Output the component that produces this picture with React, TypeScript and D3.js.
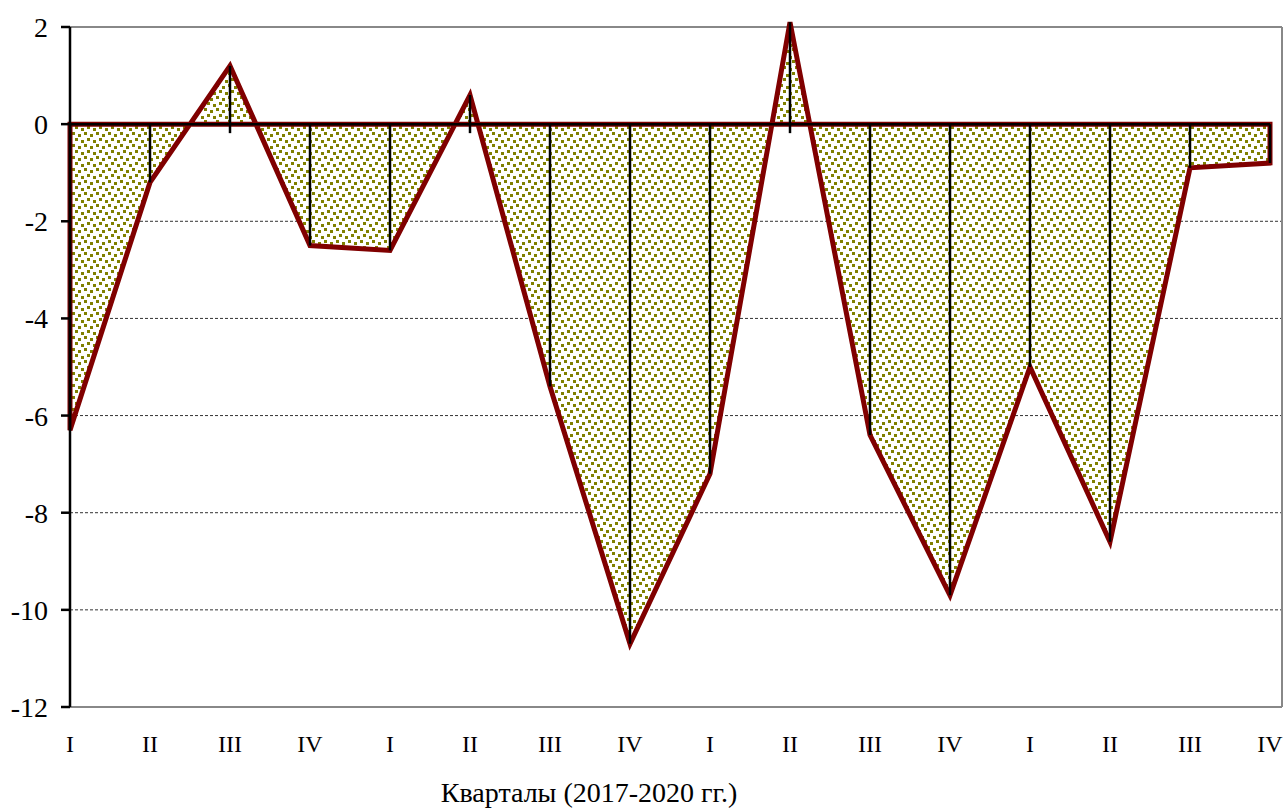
import { useMemo } from "react";
import * as d3 from "d3";

const quarters = ["I", "II", "III", "IV", "I", "II", "III", "IV", "I", "II", "III", "IV", "I", "II", "III", "IV"];
const values = [-6.3, -1.2, 1.2, -2.5, -2.6, 0.6, -5.4, -10.7, -7.2, 2.1, -6.4, -9.7, -5.0, -8.6, -0.9, -0.8];
const yTicks = [2, 0, -2, -4, -6, -8, -10, -12];
const gridTicks = [-2, -4, -6, -8, -10];
const axisTitle = "Кварталы (2017-2020 гг.)";

const W = 1284;
const H = 811;
const plot = { left: 70, right: 1282, top: 27, bottom: 707 };
const font = "'Liberation Serif', 'Times New Roman', serif";

export default function App() {
  const idx = values.map((_, i) => i);

  const x = d3.scalePoint<number>().domain(idx).range([70, 1270]);
  const y = d3.scaleLinear().domain([-12, 2]).range([plot.bottom, plot.top]);
  const y0 = y(0);

  const areaPath = useMemo(() => {
    const a = d3
      .area<number>()
      .x((i) => x(i) as number)
      .y0(y0)
      .y1((i) => y(values[i]));
    return a(idx) || "";
  }, []);

  // outline: baseline -> points -> back along baseline
  const outline = useMemo(() => {
    const pts: [number, number][] = [[x(0) as number, y0]];
    idx.forEach((i) => pts.push([x(i) as number, y(values[i])]));
    pts.push([x(idx.length - 1) as number, y0]);
    return d3.line()(pts) + "Z";
  }, []);

  return (
    <svg
      width={W}
      height={H}
      style={{ position: "absolute", left: 0, top: 0, background: "#fff" }}
    >
      <defs>
        <pattern id="dots" width="12" height="12" patternUnits="userSpaceOnUse">
          <rect width="12" height="12" fill="#ffffff" />
          <rect x="0" y="0" width="3" height="3" fill="#808000" />
          <rect x="6" y="2" width="3" height="3" fill="#808000" />
          <rect x="3" y="6" width="3" height="3" fill="#808000" />
          <rect x="9" y="8" width="3" height="3" fill="#808000" />
        </pattern>
      </defs>

      {/* plot border */}
      <line x1={plot.left} x2={plot.right} y1={plot.top} y2={plot.top} stroke="#888" strokeWidth={2} />
      <line x1={plot.right} x2={plot.right} y1={plot.top} y2={plot.bottom} stroke="#888" strokeWidth={2} />
      <line x1={plot.left} x2={plot.right} y1={plot.bottom} y2={plot.bottom} stroke="#888" strokeWidth={2} />

      {/* gridlines */}
      {gridTicks.map((t) => (
        <line
          key={t}
          x1={plot.left}
          x2={plot.right - 1}
          y1={y(t)}
          y2={y(t)}
          stroke="#333"
          strokeWidth={1}
          strokeDasharray="3,2"
        />
      ))}

      {/* area */}
      <path d={areaPath} fill="url(#dots)" />
      <path d={outline} fill="none" stroke="#800000" strokeWidth={5} strokeLinejoin="miter" />

      {/* category axis at zero */}
      <line x1={plot.left} x2={x(idx.length - 1) as number} y1={y0} y2={y0} stroke="#000" strokeWidth={2.5} />
      {idx.map((i) => (
        <line
          key={"d" + i}
          x1={x(i) as number}
          x2={x(i) as number}
          y1={Math.min(y(values[i]), y0)}
          y2={Math.max(y(values[i]), y0 + 9)}
          stroke="#000"
          strokeWidth={2.5}
        />
      ))}

      {/* y axis */}
      <line x1={plot.left} x2={plot.left} y1={plot.top} y2={plot.bottom} stroke="#000" strokeWidth={2.5} />
      {yTicks.map((t) => (
        <line key={"t" + t} x1={plot.left - 9} x2={plot.left} y1={y(t)} y2={y(t)} stroke="#000" strokeWidth={2.5} />
      ))}
      <g fontFamily={font} fill="#000">
        {yTicks.map((t) => (
          <text key={"y" + t} x={48} y={y(t) + 10} textAnchor="end" fontSize={28}>
            {String(t)}
          </text>
        ))}

        {/* x labels */}
        {idx.map((i) => (
          <text key={"l" + i} x={x(i) as number} y={752} textAnchor="middle" fontSize={24}>
            {quarters[i]}
          </text>
        ))}

        <text x={589} y={802} textAnchor="middle" fontSize={28}>
          {axisTitle}
        </text>
      </g>
    </svg>
  );
}
